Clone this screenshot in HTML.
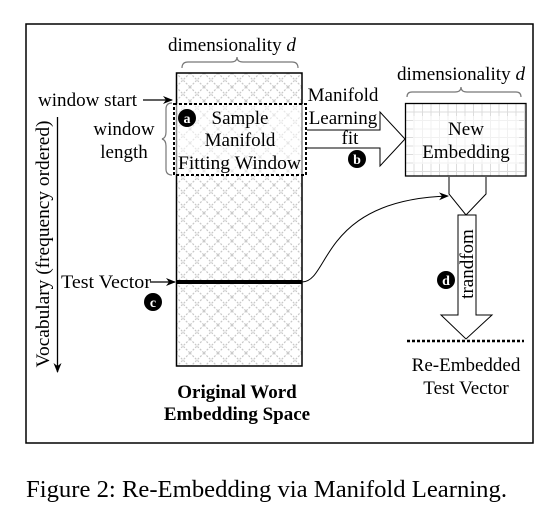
<!DOCTYPE html>
<html><head><style>
html,body{margin:0;padding:0;background:#fff;}
svg{display:block;}
text{font-family:"Liberation Serif","Times New Roman",serif;}
</style></head><body>
<svg width="548" height="509" viewBox="0 0 548 509" xmlns="http://www.w3.org/2000/svg" font-family="Liberation Serif, serif">
<defs>
<pattern id="x" width="14" height="14" patternUnits="userSpaceOnUse" x="176" y="73">
<path d="M0,0 L14,14 M14,0 L0,14" stroke="#c8c8c8" stroke-width="1.2" stroke-dasharray="2,1.5"/>
</pattern>
<pattern id="g" width="8.5" height="8.5" patternUnits="userSpaceOnUse" x="405" y="103">
<path d="M0,0 H8.5 M0,0 V8.5" stroke="#dcdcdc" stroke-width="2"/>
</pattern>
<marker id="ah" markerWidth="10" markerHeight="10" refX="9" refY="5" orient="auto" markerUnits="userSpaceOnUse">
<path d="M0,1 L10,5 L0,9 L3,5 Z" fill="#000"/>
</marker>
</defs>
<rect x="26" y="24" width="507" height="419" fill="none" stroke="#000" stroke-width="1.5"/>

<rect x="176.5" y="73" width="125.5" height="293" fill="url(#x)" stroke="#000" stroke-width="1.5"/>
<text x="168" y="51" font-size="19" textLength="128" lengthAdjust="spacingAndGlyphs">dimensionality <tspan font-style="italic">d</tspan></text>
<path d="M182,68 q0,-6 6,-6 h43 q6,0 6,-5 q0,5 6,5 h49 q6,0 6,6" fill="none" stroke="#777" stroke-width="1.2"/>

<text x="38" y="106" font-size="19" textLength="99" lengthAdjust="spacingAndGlyphs">window start</text>
<line x1="143" y1="100" x2="172" y2="100" stroke="#000" stroke-width="1.2" marker-end="url(#ah)"/>
<text x="124" y="135" font-size="19" text-anchor="middle">window</text>
<text x="124" y="158" font-size="19" text-anchor="middle">length</text>
<path d="M172,103 q-6,0 -6,6 v23 q0,6 -4,7 q4,1 4,7 v23 q0,6 6,6" fill="none" stroke="#777" stroke-width="1.2"/>

<rect x="174" y="104" width="132" height="71" fill="#fff" fill-opacity="0.55" stroke="#000" stroke-width="2" stroke-dasharray="3,2"/>
<circle cx="187" cy="118" r="9" fill="#000"/>
<text x="187" y="123" font-size="14" font-weight="bold" fill="#fff" text-anchor="middle">a</text>
<text x="240" y="124" font-size="19" text-anchor="middle">Sample</text>
<text x="240" y="146" font-size="19" text-anchor="middle">Manifold</text>
<text x="178" y="169" font-size="19" textLength="123" lengthAdjust="spacingAndGlyphs">Fitting Window</text>

<text transform="translate(49,244) rotate(-90)" font-size="19" text-anchor="middle" textLength="247" lengthAdjust="spacingAndGlyphs">Vocabulary (frequency ordered)</text>
<line x1="57.5" y1="117" x2="57.5" y2="372" stroke="#000" stroke-width="1.3" marker-end="url(#ah)"/>

<text x="61" y="288" font-size="19" textLength="90" lengthAdjust="spacingAndGlyphs">Test Vector</text>
<line x1="150" y1="282" x2="175" y2="282" stroke="#000" stroke-width="1.2" marker-end="url(#ah)"/>
<line x1="177" y1="282" x2="302" y2="282" stroke="#000" stroke-width="4"/>
<circle cx="153" cy="302" r="9" fill="#000"/>
<text x="153" y="307" font-size="14" font-weight="bold" fill="#fff" text-anchor="middle">c</text>
<path d="M302,282 C330,282 320,200 448,196" fill="none" stroke="#000" stroke-width="1" marker-end="url(#ah)"/>

<text x="237" y="398" font-size="19" font-weight="bold" text-anchor="middle">Original Word</text>
<text x="237" y="420" font-size="19" font-weight="bold" text-anchor="middle">Embedding Space</text>

<path d="M307,130 H380 V112 L405,139 L380,166 V148 H307" fill="#fff" stroke="#000" stroke-width="1"/>
<text x="343" y="101" font-size="19" text-anchor="middle">Manifold</text>
<text x="343" y="124" font-size="19" text-anchor="middle">Learning</text>
<text x="350" y="144" font-size="19" text-anchor="middle">fit</text>
<circle cx="357" cy="159" r="9" fill="#000"/>
<text x="357" y="164" font-size="14" font-weight="bold" fill="#fff" text-anchor="middle">b</text>

<text x="397" y="80" font-size="19" textLength="128" lengthAdjust="spacingAndGlyphs">dimensionality <tspan font-style="italic">d</tspan></text>
<path d="M407,97 q0,-5 5,-5 h43 q6,0 6,-5 q0,5 6,5 h49 q5,0 5,5" fill="none" stroke="#777" stroke-width="1.2"/>
<rect x="405.5" y="103.5" width="120.5" height="72.5" fill="url(#g)" stroke="#000" stroke-width="1.3"/>
<rect x="413" y="116" width="106" height="48" fill="#fff" fill-opacity="0.6"/>
<text x="466" y="135" font-size="19" text-anchor="middle">New</text>
<text x="466" y="158" font-size="19" text-anchor="middle">Embedding</text>

<path d="M449,177 V194 L466,215 L486,194 V177" fill="#fff" stroke="#000" stroke-width="1"/>
<path d="M458,215 H476 V315 H492 L466,339 L441,315 H458 Z" fill="#fff" stroke="#000" stroke-width="1"/>
<text transform="translate(473,264) rotate(-90)" font-size="19" text-anchor="middle">trandfom</text>
<circle cx="446" cy="280" r="9" fill="#000"/>
<text x="446" y="285" font-size="14" font-weight="bold" fill="#fff" text-anchor="middle">d</text>
<line x1="407" y1="341" x2="524" y2="341" stroke="#000" stroke-width="2.5" stroke-dasharray="3,2"/>
<text x="466" y="371" font-size="19" text-anchor="middle">Re-Embedded</text>
<text x="466" y="394" font-size="19" text-anchor="middle">Test Vector</text>

<text x="26" y="497" font-size="24" textLength="481" lengthAdjust="spacingAndGlyphs">Figure 2: Re-Embedding via Manifold Learning.</text>
</svg>
</body></html>
